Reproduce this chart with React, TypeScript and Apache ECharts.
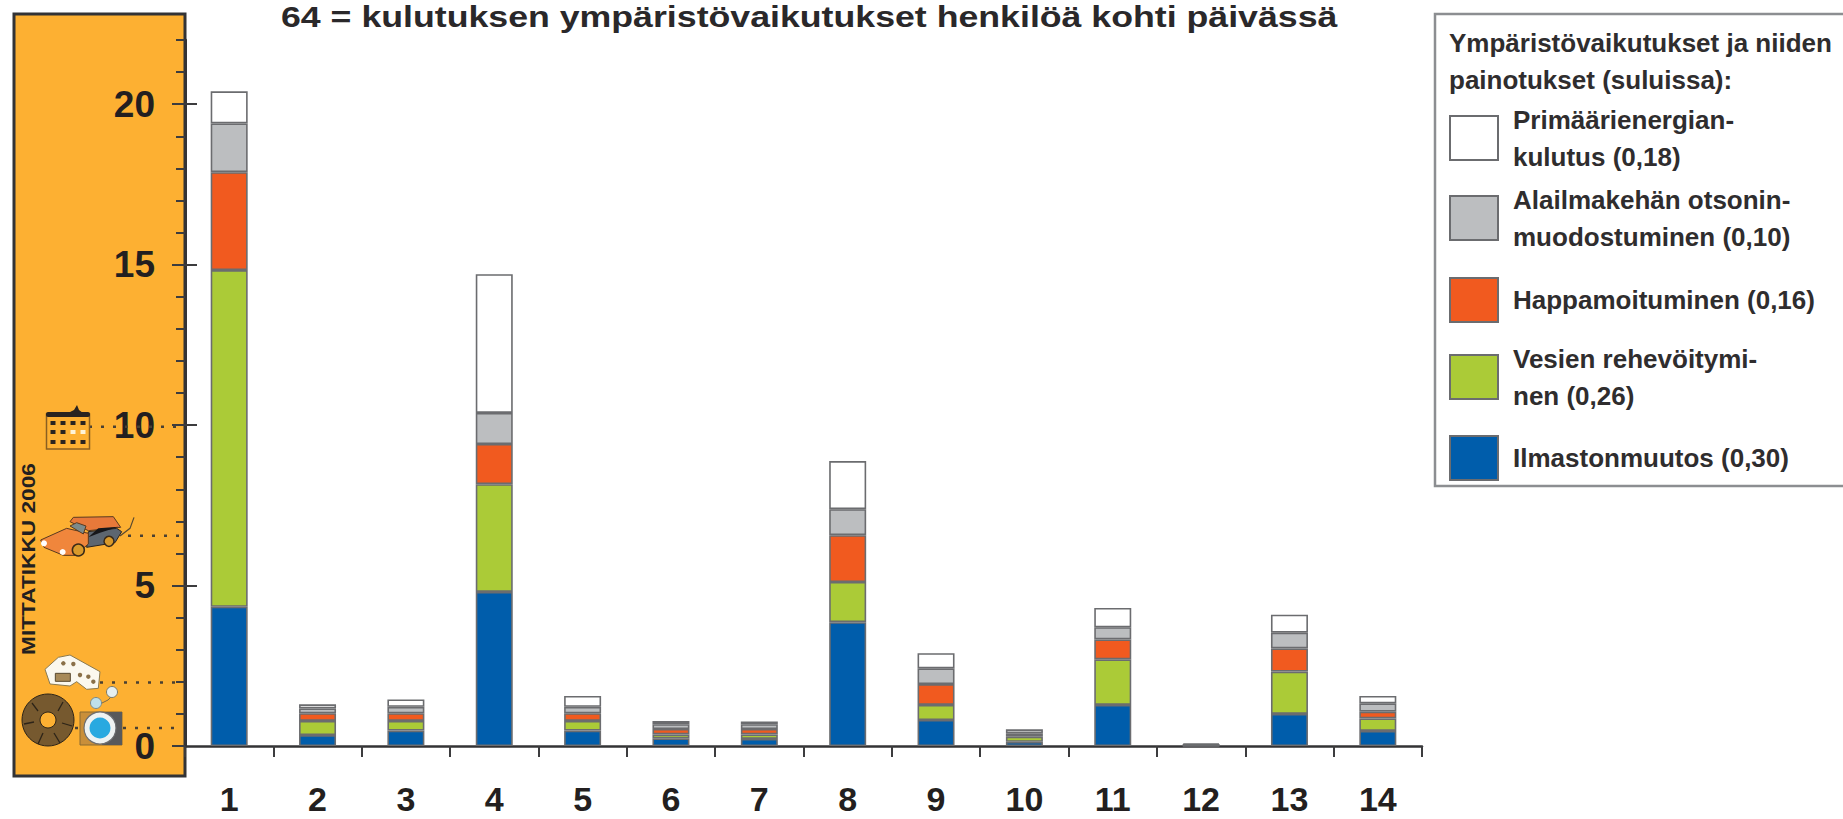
import React, { useEffect, useRef } from "react";
import * as echarts from "echarts";

const categories = ["1","2","3","4","5","6","7","8","9","10","11","12","13","14"];
const ilmasto = [4.34,0.34,0.48,4.8,0.48,0.24,0.22,3.86,0.81,0.13,1.28,0.01,1.0,0.47];
const vesi = [10.49,0.44,0.3,3.36,0.3,0.12,0.14,1.25,0.47,0.16,1.42,0.01,1.32,0.39];
const happamo = [3.05,0.24,0.24,1.25,0.24,0.17,0.17,1.46,0.65,0.05,0.62,0.01,0.72,0.21];
const otsoni = [1.52,0.15,0.2,0.97,0.2,0.15,0.15,0.81,0.49,0.06,0.38,0.01,0.49,0.26];
const energia = [1.0,0.13,0.23,4.32,0.34,0.1,0.08,1.5,0.47,0.12,0.6,0.04,0.56,0.23];
const seriesNames = [
  "Ilmastonmuutos (0,30)",
  "Vesien rehevöitymi-\nnen (0,26)",
  "Happamoituminen (0,16)",
  "Alailmakehän otsonin-\nmuodostuminen (0,10)",
  "Primäärienergian-\nkulutus (0,18)",
];
const seriesColors = ["#005dab", "#abcb37", "#f15a1f", "#bcbec0", "#ffffff"];
const legendTops = [435, 340, 277, 181, 101];
const majorTicks = [0, 5, 10, 15, 20];
const iconLevels = [9.95, 6.55, 1.98, 0.56];
const iconLineStarts = [89, 128, 100, 75];

const FONT = "'Liberation Sans', Arial, sans-serif";
const INK = "#231f20";
const tickStyle = { color: "#3c3c3e", width: 2 };

const at = (ox: number, oy: number, pts: number[][]) => pts.map(([x, y]) => [ox + x / 3, oy + y / 3]);
const poly = (points: number[][], fill: string, stroke?: string, z = 3) => ({
  type: "polygon", z, shape: { points }, style: { fill, stroke: stroke ?? "none", lineWidth: 1 },
});
const circ = (cx: number, cy: number, r: number, fill: string, stroke?: string, lw = 1, z = 3) => ({
  type: "circle", z, shape: { cx, cy, r }, style: { fill, stroke: stroke ?? "none", lineWidth: lw },
});
const box = (x: number, y: number, width: number, height: number, fill: string, stroke?: string, lw = 1, z = 3) => ({
  type: "rect", z, shape: { x, y, width, height }, style: { fill, stroke: stroke ?? "none", lineWidth: lw },
});

function iconElements() {
  const els: any[] = [];
  // building
  els.push(box(46.5, 414, 43, 35, "none", "#8a5f22", 1.5));
  els.push({ type: "rect", z: 3, shape: { x: 46, y: 412, width: 44, height: 5, r: 2 }, style: { fill: "#2a2420" } });
  els.push(poly([[68, 413], [74, 410], [77, 405], [79, 410], [83, 413]], "#2a2420"));
  [423, 432, 442].forEach((y, r) =>
    [53, 63, 73, 83].forEach((x, c) =>
      els.push(box(x - 2.5, y - 2, 5, 4, r === 1 && c > 1 ? "#fff4d8" : "#2a2420"))));
  // car
  const o: [number, number] = [20, 400];
  els.push(poly(at(...o, [[150,365],[160,352],[280,350],[302,382],[205,392]]), "#e8793a", "#5a3a20"));
  els.push(poly(at(...o, [[205,395],[290,385],[305,395],[285,428],[200,442]]), "#5d6670", "#2a2420"));
  els.push(poly(at(...o, [[205,412],[235,385],[296,380],[240,398]]), "#17171a"));
  els.push(poly(at(...o, [[62,420],[140,385],[205,400],[205,432],[165,466],[130,466],[72,442]]), "#f0863c", "#5a3a20"));
  els.push(poly(at(...o, [[150,378],[170,368],[198,378],[190,402]]), "#7c8a8a", "#5a3a20"));
  els.push(circ(20 + 175 / 3, 400 + 450 / 3, 6, "#d99a2b", "#3a2a18", 1.5));
  els.push(circ(20 + 267 / 3, 400 + 424 / 3, 5, "#d99a2b", "#3a2a18", 1.5));
  els.push(circ(20 + 72 / 3, 400 + 430 / 3, 3, "#ffffff"));
  els.push(circ(20 + 128 / 3, 400 + 456 / 3, 3, "#ffffff"));
  els.push({ type: "polyline", z: 3, shape: { points: at(...o, [[300,408],[330,385],[342,352]]) }, style: { stroke: "#5a4a30", lineWidth: 1.2, fill: "none" } });
  // cheese
  const c: [number, number] = [20, 640];
  els.push(poly(at(...c, [[75,88],[115,52],[150,45],[240,95],[235,145],[200,148],[170,125],[150,138],[90,132]]), "#fbf8ee", "#8a7a50"));
  els.push(box(20 + 106 / 3, 640 + 100 / 3, 15, 8, "#a88a58", "#5a4a30"));
  [[130,70],[160,72],[205,110],[180,105],[220,125]].forEach(([x, y]) => els.push(circ(20 + x / 3, 640 + y / 3, 2.2, "#8a7048")));
  // ring
  els.push({ type: "ring", z: 3, shape: { cx: 48, cy: 720, r: 26, r0: 8 }, style: { fill: "#76592f", stroke: "#2d2418", lineWidth: 1 } });
  [[32,703,38,711],[63,702,58,711],[24,724,34,722],[72,726,62,723],[38,744,43,733],[60,743,54,733]].forEach(([x1, y1, x2, y2]) =>
    els.push({ type: "line", z: 4, shape: { x1, y1, x2, y2 }, style: { stroke: "#2d2418", lineWidth: 1.3 } }));
  // washer
  els.push(box(80, 712, 42, 33, "#c98f3a", "#8a6a30"));
  els.push(poly([[102, 712], [122, 712], [122, 745], [102, 745]], "#58595b"));
  els.push(circ(100, 728, 16, "#eef2f2", "#6d6e71", 1.2));
  els.push(circ(100, 728, 10.5, "#29a9e0"));
  els.push({ type: "polyline", z: 3, shape: { points: [[96, 706], [108, 700], [112, 696]] }, style: { stroke: "#7a6a4a", lineWidth: 1, fill: "none" } });
  els.push(circ(96, 703, 5.5, "#bfe0ea", "#7a8a8a"));
  els.push(circ(112, 692, 5.5, "#e6eff0", "#7a7a6a"));
  return els;
}

export default function App() {
  const ref = useRef<HTMLDivElement>(null);
  useEffect(() => {
    const chart = echarts.init(ref.current!, undefined, { renderer: "svg" });
    const yBase = {
      type: "value", min: 0, max: 22, position: "left",
      splitLine: { show: false }, axisLine: { show: false }, axisLabel: { show: false },
    };
    chart.setOption({
      animation: false,
      backgroundColor: "#ffffff",
      legend: seriesNames.map((name, i) => ({
        data: [name], left: 1449, top: legendTops[i], padding: 0, orient: "vertical",
        itemWidth: 48, itemHeight: 44, itemGap: 0, selectedMode: false, icon: "rect",
        textStyle: { fontFamily: FONT, fontSize: 26, fontWeight: "bold", color: "#2f2d2e", lineHeight: 37, padding: [0, 0, 0, 10] },
      })),
      grid: { left: 185, top: 40, width: 1237, height: 706, containLabel: false, outerBoundsMode: "none" },
      xAxis: {
        type: "category", data: categories,
        axisLine: { lineStyle: { color: "#333335", width: 2.5 } },
        axisTick: { show: true, length: 11, lineStyle: tickStyle },
        axisLabel: { fontFamily: FONT, fontSize: 34, lineHeight: 30, fontWeight: "bold", color: INK, margin: 38 },
      },
      yAxis: [
        {
          ...yBase, interval: 1,
          axisLine: { show: true, lineStyle: { color: "#333335", width: 3 } },
          axisTick: { show: true, length: 9, lineStyle: tickStyle },
          axisLabel: {
            show: true, customValues: majorTicks, margin: 30,
            fontFamily: FONT, fontSize: 37, fontWeight: "bold", color: INK,
          },
        },
        { ...yBase, interval: 5, axisTick: { show: true, customValues: majorTicks, length: 13, lineStyle: tickStyle } },
        { ...yBase, interval: 5, axisTick: { show: true, customValues: majorTicks.slice(1), inside: true, length: 12, lineStyle: tickStyle } },
      ],
      series: [ilmasto, vesi, happamo, otsoni, energia].map((data, i) => ({
        name: seriesNames[i], type: "bar", stack: "total", data, barWidth: 37,
        itemStyle: { color: seriesColors[i], borderColor: "#6b6c6f", borderWidth: 1.6 },
      })),
    });
    const y = (v: number) => chart.convertToPixel({ yAxisIndex: 0 }, v) as number;
    chart.setOption({
      graphic: [
        { type: "rect", z: -5, shape: { x: 14, y: 14, width: 171, height: 762 }, style: { fill: "#fdb032", stroke: "#333335", lineWidth: 3 } },
        ...iconLevels.map((v, i) => ({
          type: "line", z: 1, shape: { x1: iconLineStarts[i], y1: y(v), x2: 181, y2: y(v) },
          style: { stroke: "#4a4032", lineWidth: 2.5, lineDash: [3, 9] },
        })),
        ...iconElements(),
        {
          type: "text", z: 5, x: 28, y: 559, rotation: Math.PI / 2, scaleX: 1.26,
          style: { text: "MITTATIKKU 2006", fontFamily: FONT, fontSize: 18, fontWeight: "bold", fill: INK, align: "center", verticalAlign: "middle" },
        },
        {
          type: "text", z: 5, x: 281, y: 2, scaleX: 1.19,
          style: { text: "64 = kulutuksen ympäristövaikutukset henkilöä kohti päivässä", fontFamily: FONT, fontSize: 30, fontWeight: "bold", fill: "#2a282a" },
        },
        { type: "polyline", z: 1, shape: { points: [[1843, 14], [1435, 14], [1435, 486], [1843, 486]] }, style: { stroke: "#8c8e91", lineWidth: 2.5, fill: "none" } },
        {
          type: "text", z: 5, x: 1449, y: 24,
          style: { text: "Ympäristövaikutukset ja niiden\npainotukset (suluissa):", fontFamily: FONT, fontSize: 26, lineHeight: 37, fontWeight: "bold", fill: "#2f2d2e" },
        },
      ],
    });
    return () => chart.dispose();
  }, []);
  return <div ref={ref} style={{ position: "fixed", left: 0, top: 0, width: 1843, height: 819 }} />;
}
